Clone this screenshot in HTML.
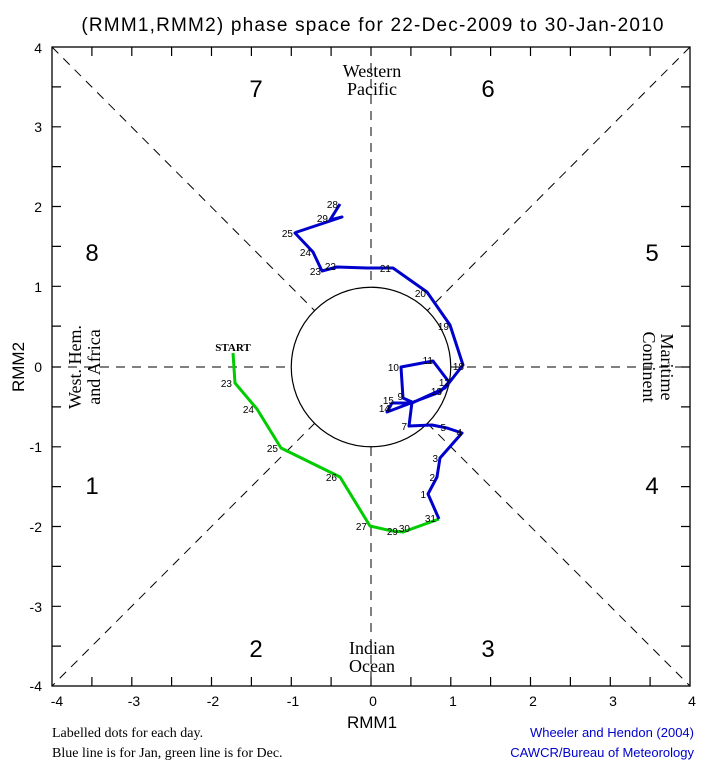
<!DOCTYPE html>
<html><head><meta charset="utf-8"><style>
html,body{margin:0;padding:0;background:#fff;}
svg{display:block}
.t{font-family:"Liberation Sans",sans-serif;}
.s{font-family:"Liberation Serif",serif;}
.m{font-family:"Liberation Mono",monospace;}
</style></head><body>
<svg width="710" height="763" viewBox="0 0 710 763" xmlns="http://www.w3.org/2000/svg">
<rect width="710" height="763" fill="#fff"/>
<text x="373" y="31" class="t" font-size="19" text-anchor="middle" fill="#000" letter-spacing="1.2">(RMM1,RMM2) phase space for 22-Dec-2009 to 30-Jan-2010</text>
<g stroke="#000" stroke-width="1" stroke-dasharray="9,7" fill="none">
<line x1="52" y1="47" x2="315" y2="311"/>
<line x1="427" y1="423" x2="690" y2="686"/>
<line x1="690" y1="47" x2="427" y2="311"/>
<line x1="315" y1="423" x2="52" y2="686"/>
<line x1="371" y1="47" x2="371" y2="287"/>
<line x1="371" y1="447" x2="371" y2="686"/>
<line x1="52" y1="367" x2="291" y2="367"/>
<line x1="451" y1="367" x2="690" y2="367"/>
</g>
<circle cx="371" cy="367" r="79.75" fill="none" stroke="#000" stroke-width="1.2"/>
<rect x="52" y="47" width="638" height="639" fill="none" stroke="#000" stroke-width="1.3"/>
<g stroke="#000" stroke-width="1.2">
<path d="M91.9 47v9M131.8 47v9M171.6 47v9M211.5 47v9M251.4 47v9M291.3 47v9M331.1 47v9M371 47v9M410.9 47v9M450.8 47v9M490.6 47v9M530.5 47v9M570.4 47v9M610.3 47v9M650.1 47v9"/>
<path d="M91.9 686v-9M131.8 686v-9M171.6 686v-9M211.5 686v-9M251.4 686v-9M291.3 686v-9M331.1 686v-9M371 686v-9M410.9 686v-9M450.8 686v-9M490.6 686v-9M530.5 686v-9M570.4 686v-9M610.3 686v-9M650.1 686v-9"/>
<path d="M52 86.9h9M52 126.8h9M52 166.6h9M52 206.5h9M52 246.4h9M52 286.3h9M52 326.1h9M52 367h9M52 406.9h9M52 446.8h9M52 486.6h9M52 526.5h9M52 566.4h9M52 606.3h9M52 646.1h9"/>
<path d="M690 86.9h-9M690 126.8h-9M690 166.6h-9M690 206.5h-9M690 246.4h-9M690 286.3h-9M690 326.1h-9M690 367h-9M690 406.9h-9M690 446.8h-9M690 486.6h-9M690 526.5h-9M690 566.4h-9M690 606.3h-9M690 646.1h-9"/>
</g>
<g class="t" font-size="14" fill="#000" text-anchor="middle">
<text x="57" y="706">-4</text><text x="134" y="706">-3</text><text x="213" y="706">-2</text><text x="293" y="706">-1</text><text x="373" y="706">0</text><text x="453" y="706">1</text><text x="533" y="706">2</text><text x="613" y="706">3</text><text x="692" y="706">4</text>
</g>
<g class="t" font-size="14" fill="#000" text-anchor="end">
<text x="42" y="53">4</text><text x="42" y="132">3</text><text x="42" y="212">2</text><text x="42" y="292">1</text><text x="42" y="372">0</text><text x="42" y="452">-1</text><text x="42" y="532">-2</text><text x="42" y="612">-3</text><text x="42" y="691">-4</text>
</g>
<text x="372" y="728" class="t" font-size="17" text-anchor="middle">RMM1</text>
<text transform="translate(24,367) rotate(-90)" class="t" font-size="17" text-anchor="middle">RMM2</text>
<g class="t" font-size="24" text-anchor="middle" fill="#000">
<text x="256" y="97">7</text><text x="488" y="97">6</text>
<text x="92" y="261">8</text><text x="652" y="261">5</text>
<text x="92" y="494">1</text><text x="652" y="494">4</text>
<text x="256" y="657">2</text><text x="488" y="657">3</text>
</g>
<g class="s" font-size="18" text-anchor="middle" fill="#000">
<text x="372" y="77">Western</text><text x="372" y="95">Pacific</text>
<text x="372" y="654">Indian</text><text x="372" y="672">Ocean</text>
<text transform="translate(81,367) rotate(-90)">West. Hem.</text>
<text transform="translate(100,367) rotate(-90)">and Africa</text>
<text transform="translate(661,367) rotate(90)">Maritime</text>
<text transform="translate(643,367) rotate(90)">Continent</text>
</g>
<g class="s" font-size="14" fill="#000">
<text x="52" y="737">Labelled dots for each day.</text>
<text x="52" y="757">Blue line is for Jan, green line is for Dec.</text>
</g>
<g class="t" font-size="13" fill="#0000cc" text-anchor="end">
<text x="694" y="737">Wheeler and Hendon (2004)</text>
<text x="694" y="757">CAWCR/Bureau of Meteorology</text>
</g>
<polyline fill="none" stroke="#00cc00" stroke-width="3" stroke-linejoin="round" points="233,353 235,383 257,409 281,448 340,477 370,526 392,531 403,532 439,519"/>
<polyline fill="none" stroke="#0000cc" stroke-width="3" stroke-linejoin="round" points="439,519 428,494 437,477 440,458 462,433 447,428 432,425 409,426 412,402 403,398 401,367 433,361 449,382 440,392 387,412 392,403 412,403 445,388 463,365 450,325 427,292 393,268 367,268 337,267 322,271 313,252 295,233 297,232 342,217 330,220 340,204"/>
<g class="t" font-size="10" fill="#000" text-anchor="end">
<text x="232" y="387">23</text><text x="254" y="413">24</text><text x="278" y="452">25</text><text x="337" y="481">26</text><text x="367" y="530">27</text><text x="398" y="535">29</text><text x="410" y="532">30</text><text x="436" y="522">31</text>
<text x="426" y="498">1</text><text x="435" y="481">2</text><text x="438" y="462">3</text><text x="462" y="436">4</text><text x="446" y="431">5</text><text x="407" y="430">7</text><text x="403" y="400">9</text><text x="399" y="371">10</text><text x="433" y="364">11</text><text x="450" y="386">12</text><text x="442" y="395">13</text><text x="390" y="412">14</text><text x="394" y="404">15</text><text x="464" y="370">18</text><text x="449" y="330">19</text><text x="426" y="297">20</text><text x="391" y="272">21</text><text x="336" y="270">22</text><text x="321" y="275">23</text><text x="311" y="256">24</text><text x="293" y="237">25</text><text x="328" y="222">29</text><text x="338" y="208">28</text>
</g>
<text x="233" y="351" class="s" font-size="11" text-anchor="middle" font-weight="bold">START</text>
</svg>
</body></html>
